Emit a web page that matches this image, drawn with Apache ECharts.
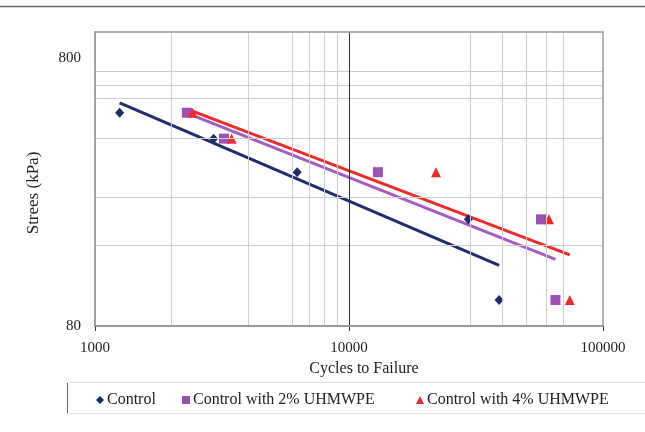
<!DOCTYPE html>
<html><head><meta charset="utf-8">
<script src="https://cdn.jsdelivr.net/npm/echarts@6/dist/echarts.min.js"></script>
<style>html,body{margin:0;padding:0;background:#fff}#c{width:645px;height:432px}</style>
</head><body><div id="c"></div>
<script>
// Data (Cycles to failure, stress kPa)
const seriesNames = ['Control', 'Control with 2% UHMWPE', 'Control with 4% UHMWPE'];
const stressLevels = [500, 400, 300, 200, 100];
const controlCycles = [1250, 2930, 6250, 29500, 39000];
const uhm2Cycles = [2300, 3220, 13000, 57000, 65000];
const uhm4Cycles = [2420, 3450, 22000, 61300, 74000];
const xTickLabels = [1000, 10000, 100000];
const yTickLabels = [80, 800];
const yAxisRange = [80, 1000];
const xMinorGrid = [2000, 4000, 6000, 7000, 8000, 9000, 30000, 40000, 50000, 60000, 70000];
const yMinorGrid = [160, 240, 400, 560, 640, 720];

const colors = ['#1f2a6b', '#9b52b3', '#ec2a2e'];
const lineColors = ['#222d70', '#a35cc0', '#ee2a2a'];
const symbols = ['diamond', 'rect', 'triangle'];
const symbolSizes = [[9, 10], [10, 10], [10, 10]];
const FONT = '"Liberation Serif", "Times New Roman", serif';

const base = yAxisRange[0];
const ty = v => Math.log10(v / base);

function fit(xs, ys) {
  const lx = xs.map(Math.log10), ly = ys.map(Math.log10);
  const n = lx.length;
  const mx = lx.reduce((a, b) => a + b) / n, my = ly.reduce((a, b) => a + b) / n;
  let sxy = 0, sxx = 0;
  for (let i = 0; i < n; i++) { sxy += (lx[i] - mx) * (ly[i] - my); sxx += (lx[i] - mx) ** 2; }
  const b = sxy / sxx, a = my - b * mx;
  const x0 = Math.min(...xs), x1 = Math.max(...xs);
  return [[x0, ty(Math.pow(10, a + b * Math.log10(x0)))], [x1, ty(Math.pow(10, a + b * Math.log10(x1)))]];
}

const cycles = [controlCycles, uhm2Cycles, uhm4Cycles];
const series = [];
series.push({
  type: 'scatter', name: 'grid', data: [], silent: true, z: 1,
  markLine: {
    silent: true, symbol: 'none', label: { show: false },
    lineStyle: { color: '#cfcfcf', width: 1, type: 'solid' },
    animation: false,
    data: xMinorGrid.map(v => ({ xAxis: v })).concat(yMinorGrid.map(v => ({ yAxis: ty(v) })))
  }
});
series.push({
  type: 'scatter', name: 'major', data: [], silent: true, z: 2,
  markLine: {
    silent: true, symbol: 'none', label: { show: false },
    lineStyle: { color: '#333', width: 1, type: 'solid' }, animation: false,
    data: [{ xAxis: xTickLabels[1] }]
  }
});
for (let i = 0; i < 3; i++) {
  series.push({
    type: 'line', name: seriesNames[i] + ' fit', data: fit(cycles[i], stressLevels),
    showSymbol: false, symbol: 'none', z: 3,
    lineStyle: { color: lineColors[i], width: 3 }, animation: false
  });
}
for (let i = 0; i < 3; i++) {
  series.push({
    type: 'scatter', name: seriesNames[i], z: 4,
    data: cycles[i].map((c, j) => [c, ty(stressLevels[j])]),
    symbol: symbols[i], symbolSize: symbolSizes[i],
    itemStyle: { color: colors[i], opacity: 1 }, animation: false
  });
}

const legendLefts = [91, 177, 411];
const option = {
  animation: false,
  backgroundColor: '#fff',
  grid: { left: 95, right: 42, top: 32, bottom: 106 },
  xAxis: {
    type: 'log', logBase: 10, min: xTickLabels[0], max: xTickLabels[2],
    name: 'Cycles to Failure', nameLocation: 'middle', nameGap: 34,
    nameTextStyle: { fontFamily: FONT, fontSize: 16, color: '#222', padding: [0, 0, 0, 30] },
    axisLine: { show: true, lineStyle: { color: '#9a9a9a', width: 2 } },
    axisTick: { show: true, length: 5, lineStyle: { color: '#333' } },
    axisLabel: { fontFamily: FONT, fontSize: 15, color: '#222', margin: 15,
      formatter: v => xTickLabels.includes(Math.round(v)) ? String(Math.round(v)) : '' },
    splitLine: { show: false }
  },
  yAxis: {
    type: 'value', min: 0, max: ty(yAxisRange[1]), interval: 1,
    name: 'Strees (kPa)', nameLocation: 'middle', nameGap: 53,
    nameTextStyle: { fontFamily: FONT, fontSize: 17, color: '#222', padding: [0, 28, 0, 0] },
    axisLine: { show: true, lineStyle: { color: '#9a9a9a', width: 1.5 } },
    axisTick: { show: false },
    axisLabel: { fontFamily: FONT, fontSize: 15, color: '#222', margin: 14,
      formatter: v => {
        const r = Math.round(v);
        if (Math.abs(v - r) > 1e-6) return '';
        const val = Math.round(base * Math.pow(10, r));
        return yTickLabels.includes(val) ? String(val) : '';
      } },
    splitLine: { show: false }
  },
  legend: seriesNames.map((n, i) => ({
    data: [{ name: n, icon: symbols[i] }],
    left: legendLefts[i], top: 387, itemWidth: 8, itemHeight: 8, itemGap: 4,
    textStyle: { fontFamily: FONT, fontSize: 16, color: '#222', padding: [0, 0, 0, -2] },
    selectedMode: false
  })),
  graphic: [
    { type: 'rect', shape: { x: 95, y: 32, width: 508, height: 294 }, style: { fill: 'none', stroke: '#9a9a9a', lineWidth: 1.5 }, z: 10, silent: true },
    { type: 'line', shape: { x1: 0, y1: 6.5, x2: 645, y2: 6.5 }, style: { stroke: '#666', lineWidth: 1.5 }, silent: true },
    { type: 'line', shape: { x1: 67.5, y1: 382, x2: 67.5, y2: 413 }, style: { stroke: '#666', lineWidth: 1 }, silent: true },
    { type: 'line', shape: { x1: 67, y1: 382.5, x2: 645, y2: 382.5 }, style: { stroke: '#e2e2e2', lineWidth: 1 }, silent: true },
    { type: 'line', shape: { x1: 67, y1: 413.5, x2: 645, y2: 413.5 }, style: { stroke: '#e2e2e2', lineWidth: 1 }, silent: true }
  ],
  series
};
const chart = echarts.init(document.getElementById('c'), null, { renderer: 'canvas' });
chart.setOption(option);
</script></body></html>
